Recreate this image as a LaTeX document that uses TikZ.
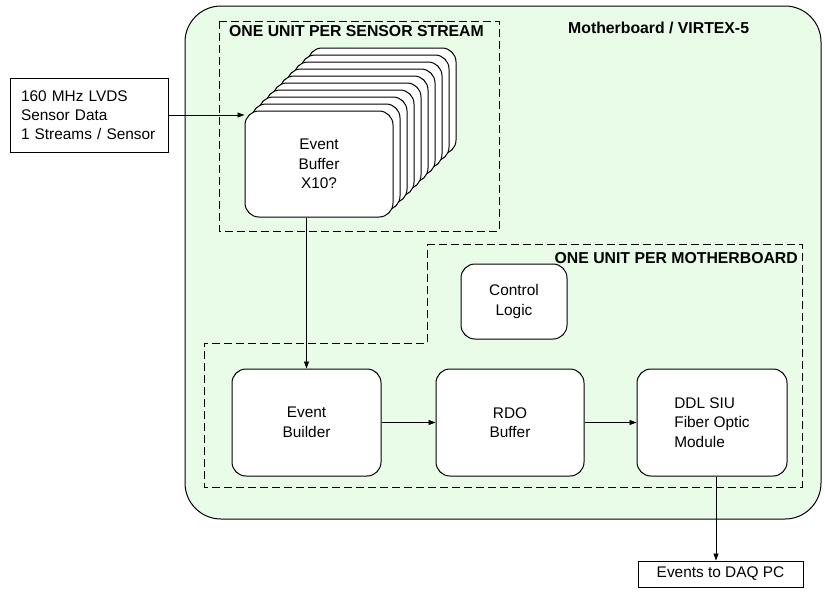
\documentclass[tikz,border=0pt]{standalone}
\usepackage{fontspec}
\setmainfont{Liberation Sans}
\usepackage{xcolor}
\usepackage{tikz}
\usetikzlibrary{arrows.meta, positioning}
\definecolor{boardgreen}{RGB}{232,252,232}

\begin{document}
\begin{tikzpicture}[x=1pt, y=-1pt,
    block/.style={rectangle, rounded corners=14pt, draw=black, line width=1pt, fill=white, align=center, font=\fontsize{15.4}{19.5}\selectfont},
    plain/.style={rectangle, draw=black, line width=0.9pt, fill=white, font=\fontsize{15.4}{19}\selectfont},
    title/.style={font=\fontsize{15.8}{18}\selectfont\bfseries, inner sep=0pt},
    region/.style={draw=black, line width=1pt, dash pattern=on 8pt off 4pt},
    arrow/.style={-{Triangle[length=7pt, width=5pt]}, line width=0.8pt}
]
\useasboundingbox (0,0) rectangle (825,598);
\draw[fill=boardgreen, line width=1pt, rounded corners=36pt] (185,6) rectangle (821,519);
\draw[region] (219,21) rectangle (499,231);
\draw[region] (427,244) -- (802,244) -- (802,487) -- (204,487) -- (204,343) -- (427,343) -- cycle;

\node[title, anchor=west] (sensorlbl) at (229,31) {ONE UNIT PER SENSOR STREAM};
\node[title, anchor=west] (boardlbl) at (568,28) {Motherboard / VIRTEX-5};
\node[title, anchor=east] (mblbl) at (798,258) {ONE UNIT PER MOTHERBOARD};

\foreach \k in {9,...,1}
    \node[block, minimum width=148pt, minimum height=106pt] (buf\k) at (319+7*\k, 164-7*\k) {};
\node[block, minimum width=148pt, minimum height=106pt] (buf) at (319,164) {Event\\Buffer\\X10?};

\node[plain, minimum width=158pt, minimum height=74pt, align=left, text width=136pt] (in) at (89,115) {160 MHz LVDS\\Sensor Data\\1 Streams / Sensor};
\node[block, minimum width=106pt, minimum height=75pt] (ctrl) at (514,301.5) {Control\\Logic};
\node[block, minimum width=149pt, minimum height=107pt] (eb) at (306.5,422.5) {Event\\Builder};
\node[block, minimum width=148pt, minimum height=107pt] (rdo) at (510,422.5) {RDO\\Buffer};
\node[block, minimum width=150pt, minimum height=107pt, align=left] (ddl) at (712,422.5) {DDL SIU\\Fiber Optic\\Module};
\node[plain, minimum width=165pt, minimum height=26pt] (daq) at (720.5,574) {Events to DAQ PC};

\draw[arrow] (in.east) -- (in.east -| buf.west);
\draw[arrow] (eb.north |- buf.south) -- (eb.north);
\draw[arrow] (eb) -- (rdo);
\draw[arrow] (rdo) -- (ddl);
\draw[arrow] ([xshift=4pt]ddl.south) -- ([xshift=4pt]ddl.south |- daq.north);
\end{tikzpicture}
\end{document}
